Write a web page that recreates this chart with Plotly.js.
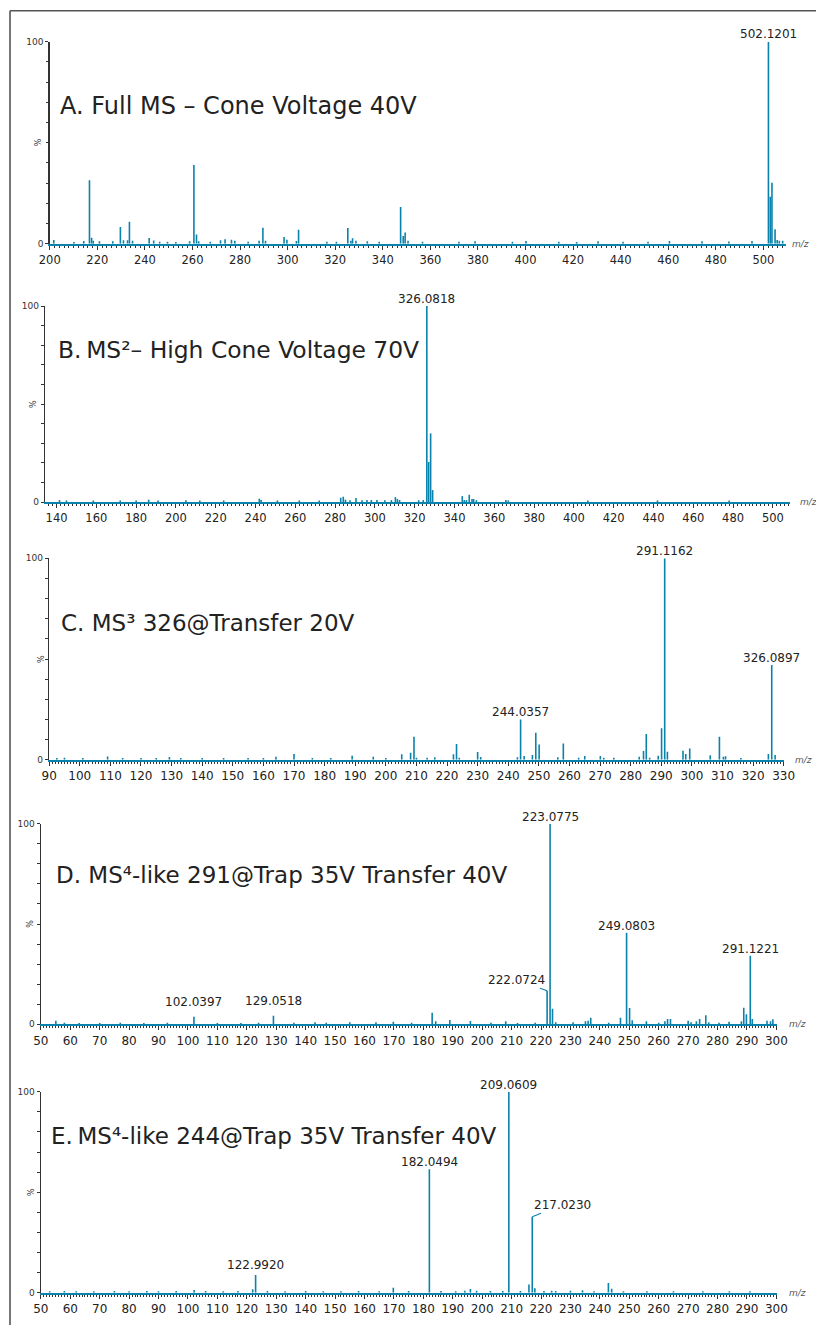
<!DOCTYPE html>
<html><head><meta charset="utf-8">
<script src="https://cdn.plot.ly/plotly-3.0.1.min.js"></script>
<style>html,body{margin:0;padding:0;background:#fff;overflow:hidden;}#chart{width:816px;height:1325px;}</style>
</head><body><div id="chart"></div>
<script>
// ---------------- DATA (m/z, relative intensity %) ----------------
// Panel A: Full MS - Cone Voltage 40V
const mzA  = [201.7,210.2,214.3,216.7,217.6,218.3,220.9,226.5,229.7,231.0,232.7,233.5,234.8,241.8,243.7,246.2,249.5,253.0,258.8,260.6,261.7,262.6,267.5,271.8,273.7,276.4,277.8,283.4,288.0,289.6,290.7,298.5,299.7,303.7,304.6,316.5,320.5,325.3,326.6,327.3,328.7,333.5,338.5,347.5,348.6,349.4,350.6,356.7,372.0,378.8,394.5,400.2,414.0,421.5,430.5,441.0,451.5,460.5,474.2,485.5,495.2,502.1201,502.9,503.6,504.9,505.8,506.7,508.1];
const intA = [1.8,0.8,1.3,31.4,3.0,1.5,1.2,1.2,8.3,1.7,1.7,10.9,1.5,2.8,1.6,1.0,1.0,0.8,1.2,39.0,4.6,1.2,1.0,1.7,2.2,2.0,1.5,1.0,1.4,7.9,1.5,3.3,1.9,1.3,6.9,1.0,1.0,7.8,1.5,2.7,1.5,1.2,1.0,18.2,3.8,5.6,1.5,1.0,1.0,1.2,1.0,1.3,1.0,0.9,1.2,1.0,1.0,1.3,1.2,1.1,1.3,100,23.3,30.2,7.1,1.8,1.5,1.5];
const labelsA = [502.1201];

// Panel B: MS2 - High Cone Voltage 70V
const mzB  = [141.5,145.0,158.5,172.0,180.0,186.3,191.0,205.0,212.0,224.0,241.9,242.8,251.0,262.0,272.0,282.8,284.1,285.2,287.5,290.5,293.5,296.0,298.2,301.0,305.0,308.3,310.3,311.3,312.4,322.0,324.3,326.0818,327.0,328.0,329.0,343.9,344.9,346.0,347.4,348.8,349.6,351.0,365.8,367.0,407.0,442.0,478.0];
const intB = [1.0,0.8,0.8,0.8,0.8,1.2,0.8,0.9,0.8,0.8,1.7,1.0,0.8,0.8,0.8,2.2,2.7,1.2,0.9,2.0,0.9,1.0,1.0,1.0,0.9,1.0,2.5,1.5,1.0,0.9,1.0,100,20.4,35.0,6.1,3.0,1.0,1.0,3.7,1.5,1.5,0.9,1.0,0.8,0.8,0.8,0.8];
const labelsB = [326.0818];

// Panel C: MS3 326@Transfer 20V
const mzC  = [92.5,95.0,101.0,109.1,114.0,120.0,125.0,129.3,133.0,140.0,147.0,155.0,160.0,164.1,170.0,176.0,182.0,189.0,195.9,200.0,205.2,208.1,209.2,210.0,213.5,216.0,222.1,223.1,224.0,230.0,231.0,243.0,244.0357,245.2,247.9,249.0,250.1,256.2,258.0,263.0,265.0,270.1,271.2,274.5,282.8,284.2,285.1,286.2,289.0,290.1,291.1162,292.0,297.1,298.0,299.3,306.0,309.0,310.3,311.0,316.0,325.0,326.0897,327.2];
const intC = [0.8,1.0,0.8,1.6,0.8,0.9,0.8,1.4,0.8,0.8,0.9,0.8,0.8,1.5,2.8,0.8,0.9,2.0,1.5,0.8,2.7,3.5,11.4,1.0,1.0,1.2,2.7,7.8,1.0,3.8,1.3,1.2,20.0,1.8,2.3,13.4,7.6,1.2,8.0,1.0,1.8,1.8,1.0,1.0,1.5,4.3,12.8,1.0,2.0,15.6,100,4.0,4.5,2.8,5.5,2.2,11.4,1.5,1.7,0.8,2.8,47.0,2.3];
const labelsC = [291.1162, 326.0897, 244.0357];

// Panel D: MS4-like 291@Trap 35V Transfer 40V
const mzD  = [55.1,58.0,63.0,70.0,77.0,85.0,93.0,102.0397,110.0,118.0,124.0,129.0518,136.0,143.2,147.0,155.0,163.9,169.8,176.0,183.0,184.2,189.0,196.0,203.0,208.0,212.0,218.0,222.0724,223.0775,223.9,225.0,230.9,235.1,236.0,236.9,243.0,247.0,249.0803,250.1,251.0,255.8,260.0,262.1,263.0,264.0,270.0,271.0,272.8,273.9,276.0,277.0,280.5,283.9,288.1,288.9,289.8,291.1221,291.8,296.8,298.0,298.8];
const intD = [1.8,0.8,0.7,0.7,0.8,0.7,0.8,3.8,0.7,0.7,0.8,4.3,0.8,1.0,0.8,1.0,1.0,1.3,0.8,5.8,1.5,2.1,1.6,0.8,1.5,0.7,0.8,16.7,100,7.8,1.0,1.0,1.5,1.8,3.3,0.8,3.3,45.7,8.1,2.0,1.5,0.8,1.5,2.6,2.6,1.8,1.0,1.5,2.6,4.5,1.0,0.8,1.3,1.5,8.3,5.0,34.2,2.6,1.8,1.5,2.5];
const labelsD = [223.0775, 249.0803, 291.1221, 222.0724, 102.0397, 129.0518];

// Panel E: MS4-like 244@Trap 35V Transfer 40V
const mzE  = [53.0,58.0,62.0,68.0,75.0,80.0,86.0,90.0,96.0,102.1,106.0,112.0,117.0,122.0,122.9920,127.0,133.0,140.0,146.0,152.0,158.0,165.0,169.8,175.0,182.0494,186.0,191.0,194.1,196.0,198.1,202.8,207.0,209.0609,213.0,215.9,217.0230,217.9,221.0,223.6,225.0,230.0,234.1,238.0,242.9,244.0,248.0,256.0,265.0,275.0,284.0,291.0];
const intE = [0.7,0.8,0.7,0.7,0.8,0.7,0.8,0.7,0.9,1.3,0.8,0.7,0.8,1.7,8.8,0.8,0.7,0.8,0.7,0.7,0.8,0.7,2.5,0.8,61.4,0.8,0.7,1.0,1.8,1.0,0.8,0.8,100,0.8,4.1,37.8,2.2,0.8,1.0,0.8,1.0,1.2,0.7,4.8,2.0,0.7,0.7,0.7,0.7,0.7,0.7];
const labelsE = [209.0609, 182.0494, 217.0230, 122.9920];

const titles = [
  'A. Full MS \u2013 Cone Voltage 40V',
  'B.\u2009MS\u00B2\u2013 High Cone Voltage 70V',
  'C. MS\u00B3 326@Transfer 20V',
  'D. MS\u2074-like 291@Trap 35V Transfer 40V',
  'E.\u2009MS\u2074-like 244@Trap 35V Transfer 40V'
];

// ---------------- STYLE ----------------
const TEAL = '#0b82ab';
const FONT = 'DejaVu Sans, Verdana, sans-serif';
const W = 816, H = 1325;
const px = v => v / W, py = v => 1 - v / H;

const panels = [
  {mz: mzA, it: intA, lab: labelsA, x: [49.5, 786], y: [41.7, 243.7], range: [199.9, 509.5], dtick: 20, minor: 2, tf: 11.5, title: [58, 106, 24], mzShift: 4, pctShift: -11,
   labStyle: {'502.1201': {ys: 8}}},
  {mz: mzB, it: intB, lab: labelsB, x: [45, 790], y: [306, 502], range: [134.2, 508.6], dtick: 20, minor: 2, tf: 11.5, title: [56, 350, 23.4], mzShift: 8, pctShift: -12,
   labStyle: {'326.0818': {ys: 7}}},
  {mz: mzC, it: intC, lab: labelsC, x: [49, 784], y: [558.3, 759.7], range: [89.95, 330.1], dtick: 10, minor: 1, tf: 12, title: [59, 622.7, 23], mzShift: 9, pctShift: -8,
   labStyle: {}},
  {mz: mzD, it: intD, lab: labelsD, x: [40.7, 776.7], y: [823.7, 1024.3], range: [49.95, 300.1], dtick: 10, minor: 1, tf: 12, title: [54, 875, 23], mzShift: 10, pctShift: -10,
   labStyle: {'222.0724': {ax: -31, ay: -11}, '102.0397': {ys: 15}, '129.0518': {ys: 15}}},
  {mz: mzE, it: intE, lab: labelsE, x: [40.7, 776.7], y: [1091.7, 1292.7], range: [49.95, 300.1], dtick: 10, minor: 1, tf: 12, title: [49.3, 1135.7, 23], mzShift: 10, pctShift: -10,
   labStyle: {'217.0230': {ax: 30, ay: -12}, '122.9920': {ys: 10}}}
];

const data = [];
const layout = {
  width: W, height: H, margin: {l: 0, r: 0, t: 0, b: 0},
  paper_bgcolor: '#fff', plot_bgcolor: 'rgba(0,0,0,0)',
  showlegend: false, annotations: [], shapes: [],
  font: {family: FONT, color: '#222'}
};

// outer frame: only left and top edges are visible in the figure
layout.shapes.push({type: 'line', xref: 'paper', yref: 'paper', x0: px(10), x1: px(10), y0: 0, y1: py(10.7),
  line: {color: '#555', width: 1.6}});
layout.shapes.push({type: 'line', xref: 'paper', yref: 'paper', x0: px(10), x1: 1, y0: py(10.7), y1: py(10.7),
  line: {color: '#555', width: 1.6}});

panels.forEach((p, i) => {
  const n = i === 0 ? '' : String(i + 1);
  const xa = 'x' + n, ya = 'y' + n;
  const xs = [], ys = [];
  p.mz.forEach((m, k) => { xs.push(m, m, null); ys.push(0, p.it[k], null); });
  data.push({type: 'scatter', mode: 'lines', x: xs, y: ys, xaxis: xa, yaxis: ya,
    line: {color: TEAL, width: 1.6}, hoverinfo: 'skip', connectgaps: false});

  const minorVals = [];
  for (let v = 10; v < 100; v += 10) minorVals.push(v);

  layout['xaxis' + n] = {
    domain: [px(p.x[0]), px(p.x[1])], range: p.range, anchor: ya,
    showline: true, linecolor: TEAL, linewidth: 2,
    ticks: 'outside', ticklen: 4, tickwidth: 1, tickcolor: '#333',
    tickmode: 'linear', tick0: 0, dtick: p.dtick,
    minor: {tickmode: 'linear', tick0: 0, dtick: p.minor, ticks: 'outside', ticklen: 2, tickwidth: 1, tickcolor: '#333'},
    showgrid: false, zeroline: false, fixedrange: true,
    tickfont: {family: FONT, size: p.tf, color: '#222'}
  };
  layout['yaxis' + n] = {
    domain: [py(p.y[1]), py(p.y[0])], range: [0, 100], anchor: xa,
    showline: true, linecolor: '#333', linewidth: 1.2,
    ticks: 'outside', ticklen: 3, tickwidth: 1, tickcolor: '#333',
    tickmode: 'array', tickvals: [0, 100], ticktext: ['0', '100'],
    minor: {tickmode: 'array', tickvals: minorVals, ticks: 'outside', ticklen: 2.5, tickwidth: 1, tickcolor: '#333'},
    showgrid: false, zeroline: false, fixedrange: true,
    tickfont: {family: FONT, size: 9, color: '#333'}
  };

  // panel title
  layout.annotations.push({xref: 'paper', yref: 'paper', x: px(p.title[0]), y: py(p.title[1]),
    xanchor: 'left', yanchor: 'middle', showarrow: false, text: titles[i],
    font: {family: FONT, size: p.title[2], color: '#222'}});
  // m/z axis label
  layout.annotations.push({xref: xa + ' domain', yref: ya, x: 1, y: 0, xanchor: 'left', yanchor: 'middle',
    xshift: p.mzShift, showarrow: false, text: '<i>m/z</i>', font: {family: FONT, size: 9, color: '#555'}});
  // % y label
  layout.annotations.push({xref: xa + ' domain', yref: ya, x: 0, y: 50, xanchor: 'center', yanchor: 'middle',
    xshift: p.pctShift, showarrow: false, textangle: -90, text: '%', font: {family: FONT, size: 8, color: '#333'}});

  // peak labels
  p.lab.forEach(m => {
    const k = p.mz.indexOf(m);
    const st = p.labStyle[m.toFixed(4)] || {};
    const a = {xref: xa, yref: ya, x: m, y: p.it[k], text: m.toFixed(4),
      font: {family: FONT, size: 12, color: '#222'}};
    if (st.ax !== undefined) {
      Object.assign(a, {showarrow: true, arrowhead: 0, arrowwidth: 1.2, arrowcolor: TEAL,
        ax: st.ax, ay: st.ay, standoff: 0, startstandoff: 0});
    } else {
      Object.assign(a, {showarrow: false, yanchor: 'middle', yshift: st.ys !== undefined ? st.ys : 7});
    }
    layout.annotations.push(a);
  });
});

Plotly.newPlot('chart', data, layout, {staticPlot: true, displayModeBar: false});
</script>
</body></html>
